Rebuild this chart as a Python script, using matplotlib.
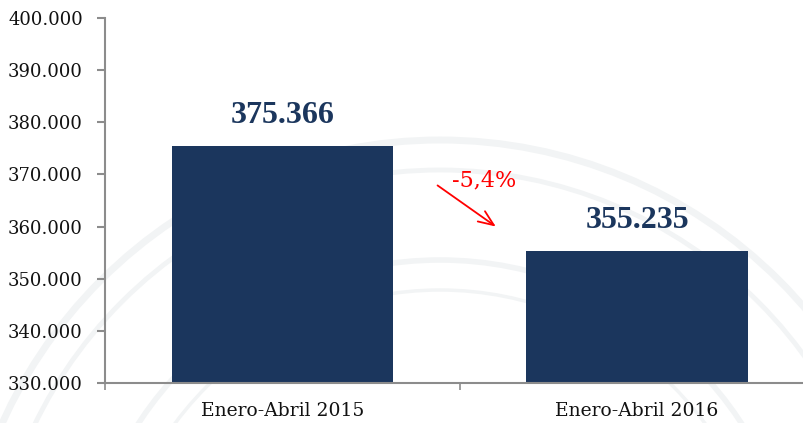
import numpy as np
import matplotlib
matplotlib.use("Agg")
import matplotlib.pyplot as plt
from matplotlib.patches import Circle
from matplotlib.ticker import FuncFormatter

categories = ["Enero-Abril 2015", "Enero-Abril 2016"]
values = [375366, 355235]
change_label = "-5,4%"

bar_color = "#1b365d"
axis_color = "#8c8c8c"

fig = plt.figure(figsize=(8.04, 4.23), dpi=100)

# faint seal watermark in the background
bg = fig.add_axes([0, 0, 1, 1], zorder=0)
bg.set_xlim(0, 804)
bg.set_ylim(423, 0)
bg.axis("off")
for r, lw in [(480, 5), (450, 3.5), (360, 4), (330, 2.5)]:
    bg.add_patch(Circle((440, 620), r, fill=False, color="#f2f4f5", lw=lw))

ax = fig.add_axes([105 / 804, 40 / 423, 709.5 / 804, 365 / 423], zorder=1)
ax.patch.set_alpha(0)

x = np.arange(len(categories))
ax.bar(x, values, width=0.625, color=bar_color, zorder=2)

for xi, v in zip(x, values):
    ax.annotate(f"{v:,}".replace(",", "."), (xi, v), xytext=(0, 12),
                textcoords="offset points", ha="center", va="bottom",
                fontsize=23, fontweight="bold", family="Liberation Serif",
                color=bar_color)

ax.set_xlim(-0.5, 1.5)
ax.set_ylim(330000, 400000)
ax.set_yticks(np.arange(330000, 400001, 10000))
ax.yaxis.set_major_formatter(FuncFormatter(lambda v, p: f"{int(v):,}".replace(",", ".")))

ax.set_xticks([-0.5, 0.5])
ax.set_xticklabels(["", ""])
ax.set_xticks(x, minor=True)
ax.set_xticklabels(categories, minor=True)
ax.tick_params(axis="x", which="minor", length=0, pad=14)
ax.tick_params(axis="x", which="major", length=5, width=1.2, color=axis_color)
ax.tick_params(axis="y", length=6, width=1.5, color=axis_color, pad=10)

for lbl in ax.get_yticklabels() + ax.get_xticklabels(minor=True):
    lbl.set_family("DejaVu Serif")
    lbl.set_color("#111111")
for lbl in ax.get_yticklabels():
    lbl.set_fontsize(13)
for lbl in ax.get_xticklabels(minor=True):
    lbl.set_fontsize(13.5)

for s in ["top", "right"]:
    ax.spines[s].set_visible(False)
for s in ["left", "bottom"]:
    ax.spines[s].set_color(axis_color)
    ax.spines[s].set_linewidth(1.5)

# change annotation
ax.annotate("", xy=(0.608, 359700), xytext=(0.431, 368200),
            arrowprops=dict(arrowstyle="->,head_length=1.1,head_width=0.45",
                            color="red", lw=1.3))
ax.text(0.569, 368900, change_label, ha="center", va="center",
        fontsize=16, family="DejaVu Serif", color="red")

fig.savefig("out.png", dpi=100)
